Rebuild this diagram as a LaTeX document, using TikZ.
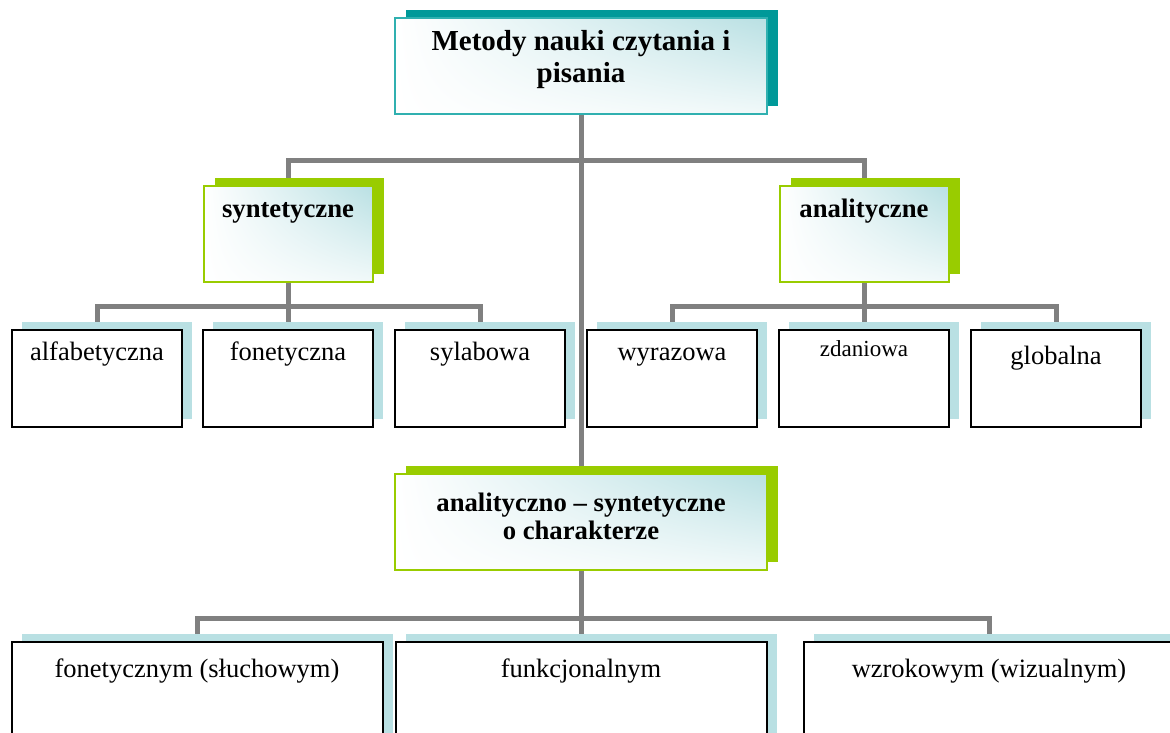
\documentclass[tikz,border=0pt]{standalone}
\usepackage{fontspec}
\setmainfont{Liberation Serif}
\usetikzlibrary{shadows,shadings,backgrounds}
\definecolor{tealdark}{HTML}{009999}
\definecolor{tealline}{HTML}{30B0B0}
\definecolor{limegreen}{HTML}{99CC00}
\definecolor{paleblue}{HTML}{B9E0E3}
\definecolor{conngrey}{HTML}{808080}
\newcommand{\boxtext}[4]{\parbox[c][#2][t]{#1}{\centering\rule{0pt}{#3}#4\par}}

\begin{document}
\begin{tikzpicture}[x=1pt,y=-1pt]
\tikzset{conn/.style={draw=conngrey, line width=5pt},
  boxbase/.style={inner sep=0pt, line width=2pt},
  tinted/.style={upper right=paleblue, upper left=white, lower left=white, lower right=white!80!paleblue, shade},
  titlebox/.style={boxbase, tinted, draw=tealline, drop shadow={shadow xshift=11pt, shadow yshift=8pt, fill=tealdark, opacity=1}},
  groupbox/.style={boxbase, tinted, draw=limegreen, drop shadow={shadow xshift=11pt, shadow yshift=8pt, fill=limegreen, opacity=1}},
  leafbox/.style={boxbase, draw=black, fill=white, drop shadow={shadow xshift=10pt, shadow yshift=8pt, fill=paleblue, opacity=1}}}
\useasboundingbox (0,0) rectangle (1170,733);

\node[titlebox] (title) at (581,66) {\boxtext{372pt}{96pt}{33pt}{\fontsize{29}{32}\selectfont\bfseries Metody nauki czytania i\\ pisania}};

\node[groupbox] (syn) at (288,234) {\boxtext{169pt}{96pt}{31pt}{\fontsize{26.7}{28}\selectfont\bfseries syntetyczne}};
\node[groupbox] (ana) at (864,234) {\boxtext{169pt}{96pt}{31pt}{\fontsize{26.7}{28}\selectfont\bfseries analityczne}};

\node[leafbox] (alf) at (97,378.5) {\boxtext{170pt}{97pt}{30pt}{\fontsize{26.5}{28}\selectfont alfabetyczna}};
\node[leafbox] (fon) at (288,378.5) {\boxtext{170pt}{97pt}{30pt}{\fontsize{26.5}{28}\selectfont fonetyczna}};
\node[leafbox] (syl) at (480,378.5) {\boxtext{170pt}{97pt}{30pt}{\fontsize{26.5}{28}\selectfont sylabowa}};
\node[leafbox] (wyr) at (672,378.5) {\boxtext{170pt}{97pt}{30pt}{\fontsize{26.5}{28}\selectfont wyrazowa}};
\node[leafbox] (zda) at (864,378.5) {\boxtext{170pt}{97pt}{26pt}{\fontsize{23}{25}\selectfont zdaniowa}};
\node[leafbox] (glo) at (1056,378.5) {\boxtext{170pt}{97pt}{34pt}{\fontsize{26.5}{28}\selectfont globalna}};

\node[groupbox] (mid) at (581,522) {\boxtext{372pt}{96pt}{37pt}{\fontsize{26.7}{28}\selectfont\bfseries analityczno -- syntetyczne\\ o charakterze}};

\node[leafbox] (fonb) at (197,692) {\boxtext{371pt}{100pt}{35pt}{\fontsize{26.5}{28}\selectfont fonetycznym (słuchowym)}};
\node[leafbox] (fun) at (581,692) {\boxtext{371pt}{100pt}{35pt}{\fontsize{26.5}{28}\selectfont funkcjonalnym}};
\node[leafbox] (wzr) at (989,692) {\boxtext{371pt}{100pt}{35pt}{\fontsize{26.5}{28}\selectfont wzrokowym (wizualnym)}};

\begin{scope}[on background layer]
\coordinate (topbar) at (581,161);
\coordinate (synbar) at (288,306);
\coordinate (anabar) at (864,306);
\coordinate (midbar) at (581,618);
\draw[conn] (title.south) -- (mid.north);
\draw[conn] (syn.north) |- (topbar) -| (ana.north);
\draw[conn] (alf.north) |- (synbar) -| (syl.north);
\draw[conn] (syn.south) -- (fon.north);
\draw[conn] (wyr.north) |- (anabar) -| (glo.north);
\draw[conn] (ana.south) -- (zda.north);
\draw[conn] (fonb.north) |- (midbar) -| (wzr.north);
\draw[conn] (mid.south) -- (fun.north);
\end{scope}
\end{tikzpicture}
\end{document}
